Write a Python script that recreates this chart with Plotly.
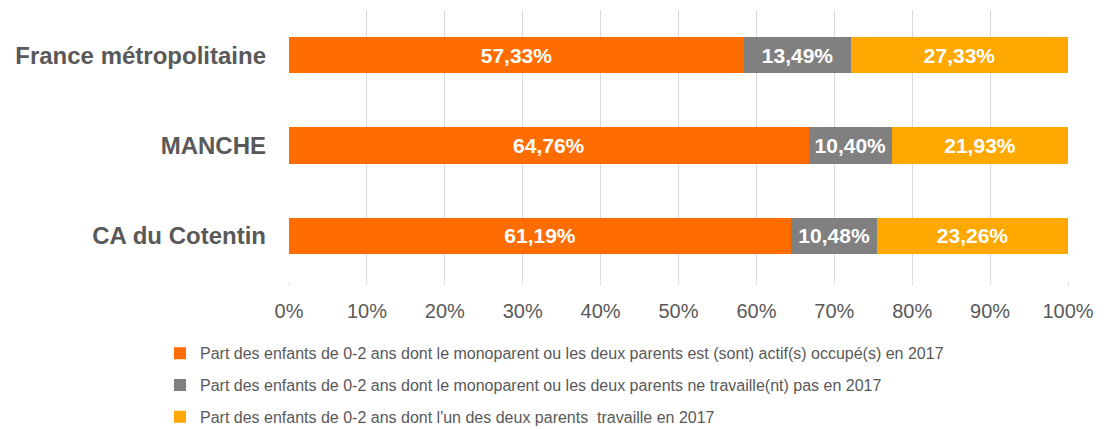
import plotly.graph_objects as go

categories = ["France métropolitaine", "MANCHE", "CA du Cotentin"]
series_names = [
    "Part des enfants de 0-2 ans dont le monoparent ou les deux parents est (sont) actif(s) occupé(s) en 2017",
    "Part des enfants de 0-2 ans dont le monoparent ou les deux parents ne travaille(nt) pas en 2017",
    "Part des enfants de 0-2 ans dont l'un des deux parents  travaille en 2017",
]
actifs = [57.33, 64.76, 61.19]
inactifs = [13.49, 10.40, 10.48]
un_parent = [27.33, 21.93, 23.26]
colors = ["#FF6D00", "#808080", "#FFA800"]
tick_vals = list(range(0, 101, 10))
tick_text = [f"{v}%" for v in tick_vals]

def fmt(v):
    return f"{v:.2f}".replace(".", ",") + "%"

fig = go.Figure()
for name, vals, col in zip(series_names, [actifs, inactifs, un_parent], colors):
    fig.add_trace(go.Bar(
        y=categories, x=vals, name=name, orientation="h",
        marker=dict(color=col, line=dict(width=0)),
        text=[fmt(v) for v in vals], textposition="inside",
        insidetextanchor="middle",
        textfont=dict(family="Liberation Sans, Arial", size=21, color="white", weight="bold"),
        legendgroup=name,
    ))

fig.update_layout(
    barmode="stack", barnorm="percent", bargap=0.6,
    width=1108, height=429,
    margin=dict(l=281, r=48, t=2, b=155.5, autoexpand=False),
    plot_bgcolor="white", paper_bgcolor="white",
    font=dict(family="Liberation Sans, Arial", color="#595959"),
    legend=dict(
        orientation="v", x=-0.1656, xanchor="left", y=-0.204, yanchor="top",
        font=dict(size=16, color="#595959"), tracegroupgap=8,
        itemwidth=30, traceorder="grouped",
    ),
    uniformtext=dict(mode=False),
)
fig.update_xaxes(
    range=[0, 100], tickvals=tick_vals, ticktext=tick_text,
    showgrid=True, gridcolor="#D9D9D9", gridwidth=1, zeroline=False,
    tickfont=dict(family="Liberation Sans, Arial", size=20, color="#595959"),
    ticks="outside", ticklen=3, tickcolor="#D9D9D9", ticklabelstandoff=9,
)
fig.update_yaxes(
    categoryorder="array", categoryarray=categories, autorange="reversed",
    tickfont=dict(family="Liberation Sans, Arial", size=24, color="#595959", weight="bold"),
    ticklabelstandoff=22, showgrid=False,
)
fig.write_html("out.html")
